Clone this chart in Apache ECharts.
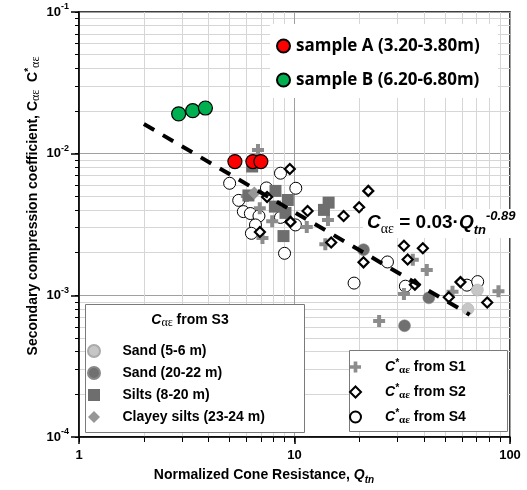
<!DOCTYPE html>
<html><head><meta charset="utf-8">
<script src="https://cdn.jsdelivr.net/npm/echarts@6/dist/echarts.min.js"></script>
<style>html,body{margin:0;padding:0;background:#fff}#c{width:527px;height:490px}</style>
</head><body><div id="c"></div>
<script>
// ---- data (Qtn, C_alpha_eps) ----
const sampleAQtn = [5.29, 6.41, 6.98];
const sampleACae = [0.0088, 0.0088, 0.0088];
const sampleBQtn = [2.90, 3.37, 3.86];
const sampleBCae = [0.0191, 0.0201, 0.0210];

const sand56Qtn = [70.6, 63.8];
const sand56Cae = [0.00109, 0.00080];
const sand2022Qtn = [20.9, 42.0, 32.4];
const sand2022Cae = [0.00210, 0.00096, 0.00061];
const siltsQtn = [6.36, 6.11, 8.16, 9.31, 8.11, 9.08, 8.89, 14.4, 13.7];
const siltsCae = [0.00812, 0.00507, 0.00546, 0.00471, 0.00423, 0.00382, 0.00262, 0.00451, 0.00401];
const clayeyQtn = [6.51];
const clayeyCae = [0.00528];

const s1Qtn = [6.77, 6.01, 6.90, 7.88, 7.10, 11.4, 13.9, 14.3, 35.4, 41.1, 32.2, 54.1, 88.4, 24.7];
const s1Cae = [0.01062, 0.00503, 0.00412, 0.00333, 0.00254, 0.00304, 0.00229, 0.00340, 0.00178, 0.00151, 0.00102, 0.00106, 0.00107, 0.00066];

const s2Qtn = [9.51, 7.46, 11.5, 9.58, 6.91, 16.9, 19.95, 22.0, 14.8, 20.9, 32.2, 39.4, 33.5, 36.2, 58.9, 78.4, 52.0];
const s2Cae = [0.00780, 0.00494, 0.00394, 0.00330, 0.00280, 0.00363, 0.00419, 0.00546, 0.00236, 0.00171, 0.00224, 0.00215, 0.00179, 0.00119, 0.00124, 0.00089, 0.00097];

const s4Qtn = [5.00, 5.51, 5.79, 6.24, 6.84, 6.59, 6.31, 7.41, 8.61, 10.14, 8.61, 10.1, 8.99, 18.9, 27.0, 32.7, 63.1, 70.8];
const s4Cae = [0.00618, 0.00468, 0.00390, 0.00378, 0.00363, 0.00314, 0.00274, 0.00573, 0.00728, 0.00570, 0.00355, 0.00314, 0.00198, 0.00122, 0.00172, 0.00116, 0.00118, 0.00125];

// fitted trend C = 0.03 * Qtn^-0.89
const fitCoef = 0.03;
const fitExp = -0.89;
const fitQtnRange = [2, 65];

// axis ticks / grid values
const xMajorTicks = [1, 10, 100];
const yMajorTicks = [0.0001, 0.001, 0.01, 0.1];
const xGridValues = [1,2,3,4,5,6,7,8,9,10,20,30,40,50,60,70,80,90,100];
const yGridValues = [0.0001,0.0002,0.0003,0.0004,0.0005,0.0006,0.0007,0.0008,0.0009,
  0.001,0.002,0.003,0.004,0.005,0.006,0.007,0.008,0.009,
  0.01,0.02,0.03,0.04,0.05,0.06,0.07,0.08,0.09,0.1];

const zip = (a, b) => a.map((v, i) => [v, b[i]]);
const trendData = fitQtnRange.map(q => [q, fitCoef * Math.pow(q, fitExp)]);

const PLUS = 'path://M4,0H8V4H12V8H8V12H4V8H0V4H4Z';
const DIAM = 'path://M5,0L10,5L5,10L0,5Z';
const SQR = 'path://M0,0H10V10H0Z';
const FONT = 'Liberation Sans';
const SERIF = 'Liberation Serif';

const gridColors = ['#a0a0a0','#d6d6d6','#d6d6d6','#d6d6d6','#d6d6d6','#d6d6d6','#d6d6d6','#d6d6d6','#d6d6d6'];

const chart = echarts.init(document.getElementById('c'), null, {renderer: 'canvas'});

const nameS1 = 'C*ae from S1', nameS2 = 'C*ae from S2', nameS4 = 'C*ae from S4';
const legend3Fmt = {};
legend3Fmt[nameS1] = '{c|C}{sup|*}{sub|αε}{t| from S1}';
legend3Fmt[nameS2] = '{c|C}{sup|*}{sub|αε}{t| from S2}';
legend3Fmt[nameS4] = '{c|C}{sup|*}{sub|αε}{t| from S4}';

chart.setOption({
  animation: false,
  backgroundColor: '#fff',
  grid: {left: 79, right: 17, top: 12, bottom: 53, show: true, borderColor: '#000', borderWidth: 1.5, containLabel: false},
  xAxis: [
    {type: 'log', logBase: 10, min: 1, max: 100, position: 'bottom', gridIndex: 0,
     axisLine: {show: true, lineStyle: {color: '#000', width: 1.5}},
     axisTick: {show: true, length: 7, lineStyle: {color: '#000', width: 1.5}, customValues: xMajorTicks},
     axisLabel: {show: true, customValues: xMajorTicks, margin: 12, color: '#000', fontFamily: FONT, fontWeight: 'bold', fontSize: 13,
       formatter: v => String(Math.round(v))},
     splitLine: {show: false}, minorTick: {show: false}},
    {type: 'log', logBase: 10, min: 1, max: 100, position: 'bottom', gridIndex: 0,
     axisLine: {show: false}, axisLabel: {show: false},
     axisTick: {show: true, length: 5, lineStyle: {color: '#000', width: 1}, customValues: xGridValues},
     splitLine: {show: true, lineStyle: {color: gridColors, width: 1}}}
  ],
  yAxis: [
    {type: 'log', logBase: 10, min: 0.0001, max: 0.1, position: 'left', gridIndex: 0,
     axisLine: {show: true, lineStyle: {color: '#000', width: 1.5}},
     axisTick: {show: true, length: 8, lineStyle: {color: '#000', width: 1.5}, customValues: yMajorTicks},
     axisLabel: {show: true, customValues: yMajorTicks, margin: 10, color: '#000',
       formatter: v => '{b|10}{s|' + Math.round(Math.log10(v)) + '}',
       rich: {
         b: {fontFamily: FONT, fontWeight: 'bold', fontSize: 13, lineHeight: 19, color: '#000'},
         s: {fontFamily: FONT, fontWeight: 'bold', fontSize: 9, lineHeight: 9, verticalAlign: 'top', color: '#000'}
       }},
     splitLine: {show: false}},
    {type: 'log', logBase: 10, min: 0.0001, max: 0.1, position: 'left', gridIndex: 0,
     axisLine: {show: false}, axisLabel: {show: false},
     axisTick: {show: true, length: 4, lineStyle: {color: '#000', width: 1}, customValues: yGridValues},
     splitLine: {show: true, lineStyle: {color: gridColors, width: 1}}}
  ],
  legend: [
    {data: ['sample A (3.20-3.80m)', 'sample B (6.20-6.80m)'], orient: 'vertical', left: 271, top: 31,
     itemWidth: 15, itemHeight: 13, itemGap: 14, selectedMode: false,
     textStyle: {fontFamily: 'Open Sans', fontWeight: 'bold', fontSize: 17, lineHeight: 20, color: '#000'}},
    {data: ['Sand (5-6 m)', 'Sand (20-22 m)', 'Silts (8-20 m)', 'Clayey silts (23-24 m)'], orient: 'vertical', left: 82, top: 338,
     itemWidth: 47, itemHeight: 12, itemGap: 6, selectedMode: false,
     textStyle: {fontFamily: FONT, fontWeight: 'bold', fontSize: 14, lineHeight: 16, color: '#000'}},
    {data: [nameS1, nameS2, nameS4], orient: 'vertical', left: 344, top: 353,
     itemWidth: 49, itemHeight: 11, itemGap: 7, selectedMode: false,
     formatter: n => legend3Fmt[n],
     textStyle: {fontFamily: FONT, fontWeight: 'bold', fontSize: 14, lineHeight: 18, color: '#000',
       rich: {
         c: {fontFamily: FONT, fontWeight: 'bold', fontStyle: 'italic', fontSize: 14, lineHeight: 18, color: '#000'},
         sup: {fontFamily: FONT, fontWeight: 'bold', fontStyle: 'italic', fontSize: 10, lineHeight: 10, verticalAlign: 'top', color: '#000'},
         sub: {fontFamily: SERIF, fontSize: 11, lineHeight: 10, verticalAlign: 'bottom', color: '#000'},
         t: {fontFamily: FONT, fontWeight: 'bold', fontSize: 14, lineHeight: 18, color: '#000'}
       }}}
  ],
  graphic: [
    {type: 'rect', z: 1, shape: {x: 270, y: 24, width: 228, height: 74}, style: {fill: '#fff'}},
    {type: 'rect', z: 1, shape: {x: 85.5, y: 304.5, width: 219, height: 128}, style: {fill: '#fff', stroke: '#7a7a7a', lineWidth: 1}},
    {type: 'rect', z: 1, shape: {x: 349.5, y: 350.5, width: 158, height: 81}, style: {fill: '#fff', stroke: '#7a7a7a', lineWidth: 1}},
    {type: 'text', z: 5, x: 190, y: 320, style: {
      text: '{c|C}{sub|αε}{t| from S3}', align: 'center', verticalAlign: 'middle', textAlign: 'center', textVerticalAlign: 'middle', fill: '#000',
      rich: {
        c: {fontFamily: FONT, fontWeight: 'bold', fontStyle: 'italic', fontSize: 14, lineHeight: 18, fill: '#000'},
        sub: {fontFamily: SERIF, fontSize: 12, lineHeight: 12, verticalAlign: 'bottom', fill: '#000'},
        t: {fontFamily: FONT, fontWeight: 'bold', fontSize: 14, lineHeight: 18, fill: '#000'}
      }}},
    {type: 'rect', z: 10, shape: {x: 363, y: 209, width: 153, height: 29}, style: {fill: '#fff'}},
    {type: 'text', z: 11, x: 367, y: 223, style: {
      text: '{c|C}{sub|αε}{t| = 0.03·}{c|Q}{tn|tn}{sup|-0.89}', align: 'left', verticalAlign: 'middle', textAlign: 'left', textVerticalAlign: 'middle', fill: '#000',
      rich: {
        c: {fontFamily: FONT, fontWeight: 'bold', fontStyle: 'italic', fontSize: 19, lineHeight: 27, fill: '#000'},
        t: {fontFamily: FONT, fontWeight: 'bold', fontSize: 19, lineHeight: 27, fill: '#000'},
        sub: {fontFamily: SERIF, fontSize: 14, lineHeight: 20, verticalAlign: 'bottom', fill: '#000'},
        tn: {fontFamily: FONT, fontWeight: 'bold', fontStyle: 'italic', fontSize: 13, lineHeight: 12, verticalAlign: 'bottom', fill: '#000'},
        sup: {fontFamily: FONT, fontWeight: 'bold', fontStyle: 'italic', fontSize: 13, lineHeight: 20, verticalAlign: 'top', fill: '#000'}
      }}},
    {type: 'text', z: 5, x: 33, y: 206, rotation: Math.PI / 2, style: {
      text: '{t|Secondary compression coefficient, C}{sub|αε}{t|  C}{sup|*}{sub|αε}', align: 'center', verticalAlign: 'middle', textAlign: 'center', textVerticalAlign: 'middle', fill: '#000',
      rich: {
        t: {fontFamily: FONT, fontWeight: 'bold', fontSize: 14, lineHeight: 18, fill: '#000'},
        sub: {fontFamily: SERIF, fontSize: 12, lineHeight: 12, verticalAlign: 'bottom', fill: '#000'},
        sup: {fontFamily: FONT, fontWeight: 'bold', fontSize: 10, lineHeight: 10, verticalAlign: 'top', fill: '#000'}
      }}},
    {type: 'text', z: 5, x: 264, y: 475, style: {
      text: '{t|Normalized Cone Resistance, }{q|Q}{sub|tn}', align: 'center', verticalAlign: 'middle', textAlign: 'center', textVerticalAlign: 'middle', fill: '#000',
      rich: {
        t: {fontFamily: FONT, fontWeight: 'bold', fontSize: 14, lineHeight: 20, fill: '#000'},
        q: {fontFamily: FONT, fontWeight: 'bold', fontStyle: 'italic', fontSize: 14, lineHeight: 20, fill: '#000'},
        sub: {fontFamily: FONT, fontWeight: 'bold', fontStyle: 'italic', fontSize: 10, lineHeight: 10, verticalAlign: 'bottom', fill: '#000'}
      }}}
  ],
  series: [
    {name: nameS4, type: 'scatter', z: 2, data: zip(s4Qtn, s4Cae), symbol: 'circle', symbolSize: 12,
     itemStyle: {color: '#fff', borderColor: '#000', borderWidth: 1, opacity: 1}},
    {name: nameS1, type: 'scatter', z: 3, data: zip(s1Qtn, s1Cae), symbol: PLUS, symbolSize: 12,
     itemStyle: {color: '#8c8c8c', opacity: 1}},
    {name: 'Sand (5-6 m)', type: 'scatter', z: 4, data: zip(sand56Qtn, sand56Cae), symbol: 'circle', symbolSize: 12,
     itemStyle: {color: '#c6c6c6', borderColor: '#aaa', borderWidth: 0.5, opacity: 1}},
    {name: 'Sand (20-22 m)', type: 'scatter', z: 4, data: zip(sand2022Qtn, sand2022Cae), symbol: 'circle', symbolSize: 12,
     itemStyle: {color: '#707070', borderColor: '#888', borderWidth: 0.5, opacity: 1}},
    {name: 'Silts (8-20 m)', type: 'scatter', z: 4, data: zip(siltsQtn, siltsCae), symbol: SQR, symbolSize: 12,
     itemStyle: {color: '#6e6e6e', opacity: 1}},
    {name: 'Clayey silts (23-24 m)', type: 'scatter', z: 4, data: zip(clayeyQtn, clayeyCae), symbol: DIAM, symbolSize: 13,
     itemStyle: {color: '#979797', opacity: 1}},
    {name: nameS2, type: 'scatter', z: 5, data: zip(s2Qtn, s2Cae), symbol: DIAM, symbolSize: 10,
     itemStyle: {color: '#fff', borderColor: '#000', borderWidth: 2.2, opacity: 1}},
    {name: 'trend', type: 'line', z: 6, data: trendData, symbol: 'none', silent: true,
     lineStyle: {color: '#000', width: 4, type: [12, 10], cap: 'butt'}},
    {name: 'sample A (3.20-3.80m)', type: 'scatter', z: 7, data: zip(sampleAQtn, sampleACae), symbol: 'circle', symbolSize: 14,
     itemStyle: {color: '#ff0000', borderColor: '#000', borderWidth: 1.2, opacity: 1}},
    {name: 'sample B (6.20-6.80m)', type: 'scatter', z: 7, data: zip(sampleBQtn, sampleBCae), symbol: 'circle', symbolSize: 14,
     itemStyle: {color: '#00b050', borderColor: '#000', borderWidth: 1.2, opacity: 1}}
  ]
});
</script></body></html>
